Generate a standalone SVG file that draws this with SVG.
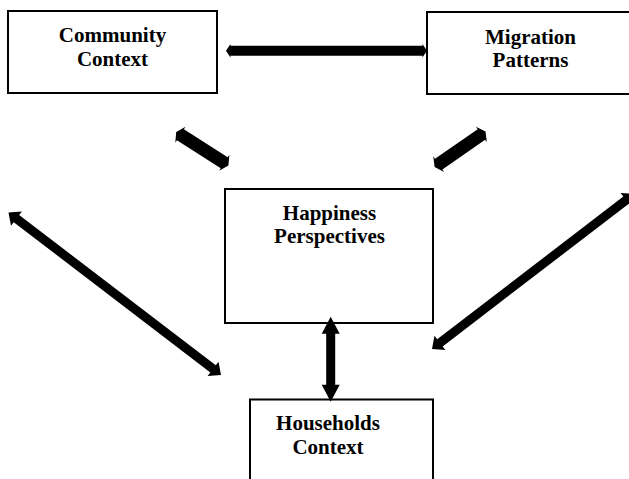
<svg xmlns="http://www.w3.org/2000/svg" width="629" height="479" viewBox="0 0 629 479">
<style>
.box{fill:#fff;stroke:#000;stroke-width:2}
.t{font-family:"Liberation Serif","Times New Roman",serif;font-weight:bold;font-size:21px;text-anchor:middle;fill:#000}
.arr{fill:#000;stroke:none}
</style>
<rect width="629" height="479" fill="#fff"/>
<g id="community">
<rect class="box" x="8" y="11" width="209" height="82"/>
<text class="t" x="112.5" y="42">Community</text>
<text class="t" x="112.5" y="66">Context</text>
</g>
<g id="migration">
<rect class="box" x="427" y="12" width="205" height="82"/>
<text class="t" x="530.5" y="43.5">Migration</text>
<text class="t" x="530.5" y="67">Patterns</text>
</g>
<g id="happiness">
<rect class="box" x="225" y="189" width="208" height="134"/>
<text class="t" x="329.5" y="220">Happiness</text>
<text class="t" x="329.5" y="243">Perspectives</text>
</g>
<g id="households">
<rect class="box" x="250" y="399.5" width="183" height="100"/>
<text class="t" x="328" y="430">Households</text>
<text class="t" x="328" y="454">Context</text>
</g>
<g id="connectors">
<polygon class="arr" transform="translate(226,50.7)" points="0,0 4.5,-6.7 4.5,-5 196.5,-5 196.5,-6.7 201,0 196.5,6.7 196.5,5 4.5,5 4.5,6.7"/>
<polygon class="arr" transform="translate(176.2,132) rotate(32.6)" points="0,0 5,-9.5 5,-6.5 57,-6.5 57,-9.5 62,0 57,9.5 57,6.5 5,6.5 5,9.5"/>
<polygon class="arr" transform="translate(434.6,167) rotate(-34.8)" points="0,0 5,-9.5 5,-6.5 57,-6.5 57,-9.5 62,0 57,9.5 57,6.5 5,6.5 5,9.5"/>
<polygon class="arr" transform="translate(8.5,212.5) rotate(37.4)" points="0,0 10,-9 10,-4.5 257.5,-4.5 257.5,-9 267.5,0 257.5,9 257.5,4.5 10,4.5 10,9"/>
<polygon class="arr" transform="translate(432,349) rotate(-37.5)" points="0,0 10,-9 10,-4.5 244.6,-4.5 244.6,-9 254.6,0 244.6,9 244.6,4.5 10,4.5 10,9"/>
<polygon class="arr" transform="translate(330.7,316.7) rotate(90)" points="0,0 17,-9 17,-4.5 68,-4.5 68,-9 85,0 68,9 68,4.5 17,4.5 17,9"/>
</g>
</svg>
